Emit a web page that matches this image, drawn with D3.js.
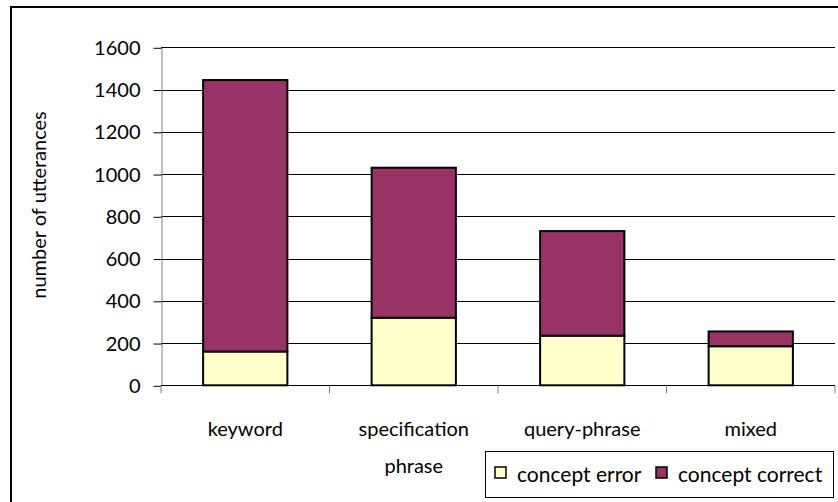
<!DOCTYPE html>
<html><head><meta charset="utf-8">
<script src="https://cdn.jsdelivr.net/npm/d3@7"></script>
<style>body{margin:0;background:#fff}svg{display:block}text{font-family:Lato,"Open Sans",sans-serif;fill:#000}</style>
</head><body>
<svg id="c" width="838" height="502"></svg>
<script>
const categories = ["keyword", "specification phrase", "query-phrase", "mixed"];
const conceptError = [160, 320, 235, 185];
const conceptCorrect = [1285, 710, 495, 70];
const yTicks = [0, 200, 400, 600, 800, 1000, 1200, 1400, 1600];
const seriesNames = ["concept error", "concept correct"];
const colors = ["#FFFFCC", "#993366"];

(function() {
const svg = d3.select("#c");
const pLeft = 161, pRight = 835, pTop = 47.3, pBottom = 385.3;
const x = d3.scaleBand().domain(categories).range([pLeft, pRight]).paddingInner(0.5).paddingOuter(0.25);
const y = d3.scaleLinear().domain([0, 1600]).range([pBottom, pTop]);

// frame
svg.append("rect").attr("x", 11).attr("y", 7).attr("width", 840).attr("height", 510)
  .attr("fill", "none").attr("stroke", "#000").attr("stroke-width", 2);

// gridlines
svg.append("g").selectAll("line").data(yTicks.filter(d => d > 0)).join("line")
  .attr("x1", pLeft).attr("x2", pRight).attr("y1", d => Math.round(y(d)) + 0.5).attr("y2", d => Math.round(y(d)) + 0.5)
  .attr("stroke", "#000").attr("stroke-width", 1);

// y axis
const yAxis = svg.append("g").attr("transform", `translate(${pLeft + 0.5},0)`)
  .call(d3.axisLeft(y).tickValues(yTicks).tickFormat(d3.format("d")).tickSize(8).tickPadding(13).tickSizeOuter(0));
yAxis.select(".domain").attr("stroke", "#808080");
yAxis.selectAll(".tick line").attr("stroke", "#000").attr("transform", "translate(0,0.5)");
yAxis.selectAll("text").attr("font-size", 20).attr("font-family", "Lato").attr("dy", "0.35em").attr("fill", "#000");

// x axis
const xAxis = svg.append("g").attr("transform", `translate(0,${Math.round(pBottom) + 0.5})`);
xAxis.append("line").attr("x1", pLeft).attr("x2", pRight).attr("stroke", "#000");
const bounds = categories.map(c => x(c) - x.step() * x.paddingInner() / 2).concat([pRight]);
xAxis.selectAll("line.t").data(bounds).join("line").attr("class", "t")
  .attr("x1", d => d).attr("x2", d => d).attr("y1", 0).attr("y2", 8).attr("stroke", "#808080");
const xl = xAxis.selectAll("text").data(categories).join("text")
  .attr("text-anchor", "middle").attr("font-size", 20)
  .attr("transform", d => `translate(${x(d) + x.bandwidth() / 2},0)`);
xl.each(function(d) {
  const t = d3.select(this);
  const parts = d === "specification phrase" ? ["specification", "phrase"] : [d];
  parts.forEach((p, i) => t.append("tspan").attr("x", 0).attr("y", 50 + i * 37).text(p));
});

// bars
const stackData = categories.map((c, i) => ({cat: c, "concept error": conceptError[i], "concept correct": conceptCorrect[i]}));
const stacked = d3.stack().keys(seriesNames)(stackData);
svg.append("g").selectAll("g").data(stacked).join("g").attr("fill", (d, i) => colors[i])
  .selectAll("rect").data(d => d).join("rect")
  .attr("x", d => x(d.data.cat)).attr("width", x.bandwidth())
  .attr("y", d => y(d[1])).attr("height", d => y(d[0]) - y(d[1]))
  .attr("stroke", "#000").attr("stroke-width", 2);

// y title
svg.append("text").attr("transform", `translate(46,205) rotate(-90)`)
  .attr("text-anchor", "middle").attr("font-size", 20).text("number of utterances");

// legend
const lg = svg.append("g");
lg.append("rect").attr("x", 485.5).attr("y", 451.5).attr("width", 348).attr("height", 46)
  .attr("fill", "#fff").attr("stroke", "#000").attr("stroke-width", 1);
const legX = [495, 656];
seriesNames.forEach((n, i) => {
  lg.append("rect").attr("x", legX[i]).attr("y", 467).attr("width", 11).attr("height", 11)
    .attr("fill", colors[i]).attr("stroke", "#000").attr("stroke-width", 1.5);
  lg.append("text").attr("x", legX[i] + 22).attr("y", 482).attr("font-size", 21).text(n);
});
})();
</script>
</body></html>
